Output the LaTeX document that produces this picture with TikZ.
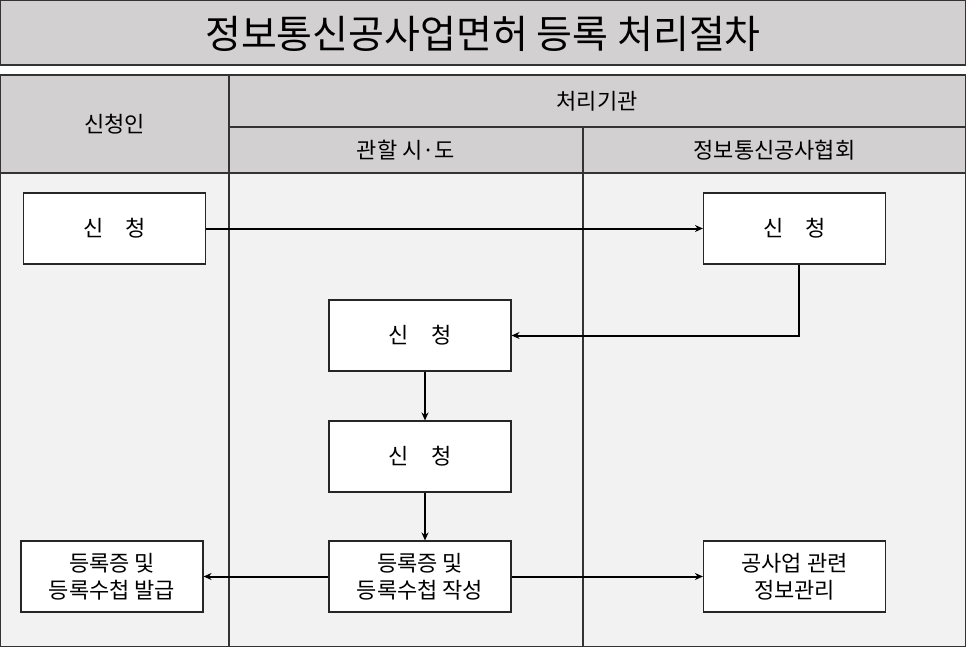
\documentclass[tikz,border=0pt]{standalone}
\usepackage{fontspec}
\setmainfont{Noto Sans CJK KR}
\usetikzlibrary{arrows.meta}
\begin{document}
\begin{tikzpicture}[x=1pt,y=-1pt,
  hdr/.style={fill=hdrgray,draw=black!80,line width=1.2pt},
  bx/.style={draw=black!85,fill=white,line width=1.1pt,minimum width=182pt,minimum height=71pt,inner sep=0pt,font=\fontsize{22}{27}\selectfont,align=center},
  ar/.style={line width=2pt,-{Stealth[length=8pt,width=7pt]}}]
\definecolor{hdrgray}{HTML}{D2D0D0}
\definecolor{bodygray}{HTML}{F2F2F2}
\useasboundingbox (0,0) rectangle (966,647);
\fill[white] (0,0) rectangle (966,647);
\draw[hdr] (0,0) rectangle (966,65);
\node (title) at (483,34) {\fontsize{39}{44}\selectfont 정보통신공사업면허 등록 처리절차};
\fill[bodygray] (0,173) rectangle (966,647);
\draw[hdr] (0,75) rectangle (966,173);
\draw[black!80,line width=1.2pt] (229,127) -- (966,127) (229,75) -- (229,647) (583,127) -- (583,647) (0,173) -- (966,173) (0,75) -- (0,647) -- (966,647) -- (966,75);
\node (h1) at (114.5,124) {\fontsize{22}{27}\selectfont 신청인};
\node (h2) at (597,101) {\fontsize{22}{27}\selectfont 처리기관};
\node (h3) at (406,150) {\fontsize{22}{27}\selectfont 관할 시·도};
\node (h4) at (774.5,150) {\fontsize{22}{27}\selectfont 정보통신공사협회};
\node[bx] (a) at (114.5,228.5) {신\quad 청};
\node[bx] (b) at (794.5,228.5) {신\quad 청};
\node[bx] (c) at (420,335.5) {신\quad 청};
\node[bx] (d) at (420,456.5) {신\quad 청};
\node[bx] (e) at (420,576.5) {등록증 및\\등록수첩 작성};
\node[bx] (f) at (112,576.5) {등록증 및\\등록수첩 발급};
\node[bx] (g) at (794.5,576.5) {공사업 관련\\정보관리};
\draw[ar] (a) -- (b);
\draw[ar] ([xshift=4pt]b.south) |- (c.east);
\draw[ar] ([xshift=5pt]c.south) -- ([xshift=5pt]d.north);
\draw[ar] ([xshift=5pt]d.south) -- ([xshift=5pt]e.north);
\draw[ar] (e) -- (f);
\draw[ar] (e) -- (g);
\end{tikzpicture}
\end{document}
